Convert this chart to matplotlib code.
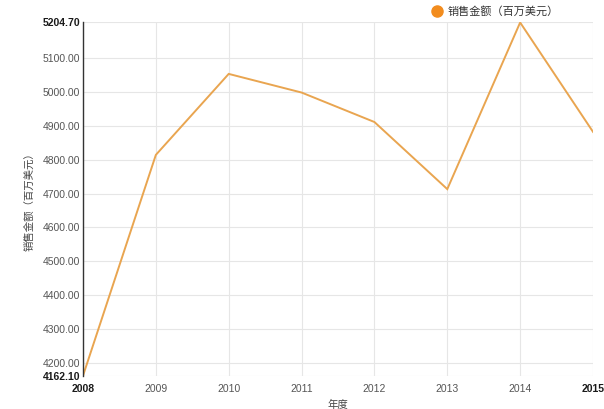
import matplotlib
matplotlib.use("Agg")
import matplotlib.pyplot as plt
from matplotlib.lines import Line2D

plt.rcParams['font.family'] = ['Liberation Sans', 'Noto Sans CJK SC', 'DejaVu Sans']

# data
years = [2008, 2009, 2010, 2011, 2012, 2013, 2014, 2015]
sales = [4162.10, 4814.0, 5053.0, 4998.0, 4911.0, 4713.0, 5204.70, 4882.0]
y_ticks = [4200, 4300, 4400, 4500, 4600, 4700, 4800, 4900, 5000, 5100]
y_min, y_max = 4162.10, 5204.70
series_name = '销售金额（百万美元）'

fig = plt.figure(figsize=(6.04, 4.09), dpi=100)
ax = fig.add_axes([0.1374, 0.0812, 0.8444, 0.8638])

ax.plot(years, sales, color='#E9A550', linewidth=1.4, solid_joinstyle='miter')

ax.set_xlim(years[0], years[-1])
ax.set_ylim(y_min, y_max)

ax.set_xticks(years)
ax.set_xticklabels([str(y) for y in years])
ax.set_yticks([y_min] + y_ticks + [y_max])
ax.set_yticklabels(['%.2f' % v for v in [y_min] + y_ticks + [y_max]])

ax.tick_params(length=0, labelsize=7.5, colors='#555555')
ax.tick_params(axis='x', pad=6)
ax.tick_params(axis='y', pad=2)
for lab in (ax.get_xticklabels()[0], ax.get_xticklabels()[-1],
            ax.get_yticklabels()[0], ax.get_yticklabels()[-1]):
    lab.set_fontweight('bold')
    lab.set_color('#1a1a1a')

ax.grid(True, color='#e6e6e6', linewidth=0.8)
ax.set_axisbelow(True)
for side in ('top', 'right', 'bottom'):
    ax.spines[side].set_visible(False)
ax.spines['left'].set_color('#333333')
ax.spines['left'].set_linewidth(1.0)

ax.set_ylabel(series_name, fontsize=7.5, color='#444444', labelpad=6)
ax.set_xlabel('年度', fontsize=7.5, color='#444444', labelpad=4)

handle = Line2D([], [], marker='o', linestyle='None', color='#F28C1E', markersize=8)
fig.legend(handles=[handle], labels=[series_name], loc='center left',
           bbox_to_anchor=(0.697, 0.972), frameon=False, fontsize=8,
           handletextpad=0.0, labelcolor='#333333', borderaxespad=0)

fig.savefig('out.png', dpi=100)
